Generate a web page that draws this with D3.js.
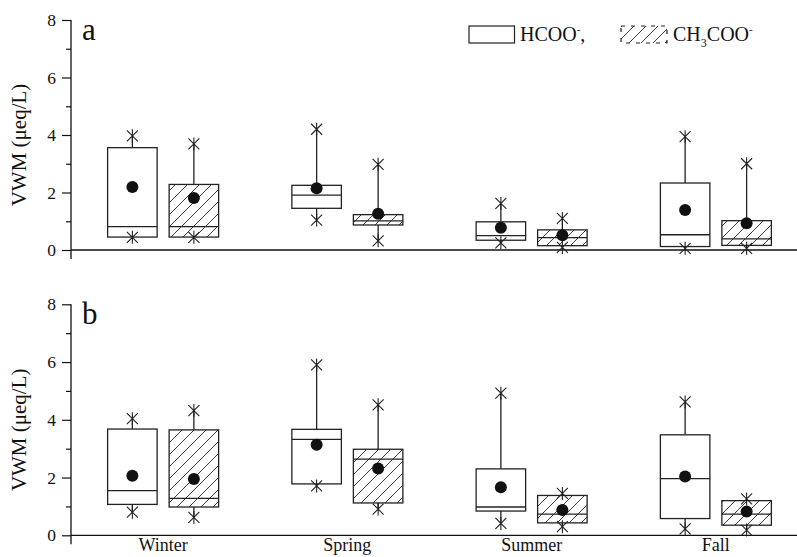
<!DOCTYPE html>
<html>
<head>
<meta charset="utf-8">
<script src="https://cdn.jsdelivr.net/npm/d3@7/dist/d3.min.js"></script>
<style>
  html, body { margin: 0; padding: 0; background: #fff; }
  svg { display: block; font-family: "Liberation Serif", "Times New Roman", serif; }
</style>
</head>
<body>
<svg id="chart" width="797" height="557"></svg>
<script>
// Seasons on the x axis
const seasons = ["Winter", "Spring", "Summer", "Fall"];
// Each row: [min, q1, median, q3, max, mean] per season (μeq/L)
const statFields = ["min", "q1", "median", "q3", "max", "mean"];

// Panel a
const hcooA = [
  [0.44, 0.45, 0.81, 3.56, 3.97, 2.19],
  [1.04, 1.45, 1.91, 2.25, 4.20, 2.15],
  [0.25, 0.34, 0.50, 0.98, 1.62, 0.77],
  [0.06, 0.12, 0.53, 2.33, 3.94, 1.39]
];
const acetA = [
  [0.44, 0.45, 0.81, 2.28, 3.69, 1.81],
  [0.32, 0.87, 1.01, 1.23, 2.98, 1.26],
  [0.09, 0.15, 0.43, 0.70, 1.10, 0.51],
  [0.06, 0.16, 0.39, 1.02, 3.00, 0.93]
];
// Panel b
const hcooB = [
  [0.80, 1.07, 1.55, 3.68, 4.04, 2.06],
  [1.71, 1.78, 3.32, 3.67, 5.90, 3.14],
  [0.41, 0.84, 0.98, 2.30, 4.92, 1.66],
  [0.22, 0.58, 1.96, 3.48, 4.62, 2.04]
];
const acetB = [
  [0.62, 0.98, 1.28, 3.65, 4.32, 1.95],
  [0.91, 1.12, 2.64, 2.98, 4.52, 2.31],
  [0.30, 0.43, 0.73, 1.38, 1.45, 0.88],
  [0.18, 0.35, 0.73, 1.20, 1.26, 0.82]
];

const yMajor = [0, 2, 4, 6, 8];
const yMinor = [1, 3, 5, 7];

const svg = d3.select("#chart");
const W = 797;

// hatch pattern for acetate boxes
const defs = svg.append("defs");
const pat = defs.append("pattern")
  .attr("id", "hatch")
  .attr("patternUnits", "userSpaceOnUse")
  .attr("width", 12).attr("height", 12);
pat.append("path")
  .attr("d", "M-3,3 L3,-3 M0,12 L12,0 M9,15 L15,9")
  .attr("stroke", "#222").attr("stroke-width", 0.9).attr("fill", "none");

const x = d3.scaleBand().domain(seasons).range([71, 808]).paddingInner(0).paddingOuter(0);
const offset = 30.75;
const boxW = 49.5;

const panels = [
  { label: "a", top: 20, bottom: 250, hcoo: hcooA, acet: acetA },
  { label: "b", top: 304.3, bottom: 535.3, hcoo: hcooB, acet: acetB }
];

const starPath = "M-5.5,-5.5L5.5,5.5M-5.5,5.5L5.5,-5.5M0,-6.5L0,6.5";

panels.forEach(p => {
  const y = d3.scaleLinear().domain([0, 8]).range([p.bottom, p.top]);
  const g = svg.append("g");

  // y axis: major ticks with labels
  const axis = d3.axisLeft(y).tickValues(yMajor).tickSize(9).tickSizeOuter(0).tickPadding(6)
    .tickFormat(d3.format("d"));
  const ga = g.append("g").attr("transform", "translate(71,0)").call(axis);
  ga.select(".domain").remove();
  ga.selectAll(".tick line").attr("stroke", "#111").attr("stroke-width", 1.2);
  ga.selectAll(".tick text").attr("font-size", 17.5).attr("fill", "#111")
    .attr("font-family", "Liberation Serif");
  // minor ticks
  const gm = g.append("g").attr("transform", "translate(71,0)")
    .call(d3.axisLeft(y).tickValues(yMinor).tickSize(5).tickSizeOuter(0).tickFormat(""));
  gm.select(".domain").remove();
  gm.selectAll(".tick line").attr("stroke", "#111").attr("stroke-width", 1.2);

  // axis lines
  g.append("line").attr("x1", 71).attr("x2", 71).attr("y1", y(8)).attr("y2", y(0) + 9)
    .attr("stroke", "#111").attr("stroke-width", 1.3);
  g.append("line").attr("x1", 71).attr("x2", W).attr("y1", y(0)).attr("y2", y(0))
    .attr("stroke", "#111").attr("stroke-width", 1.3);

  // y label
  g.append("text")
    .attr("transform", `translate(26,${(p.top + p.bottom) / 2 + 10}) rotate(-90)`)
    .attr("text-anchor", "middle").attr("font-size", 21).attr("fill", "#111")
    .text("VWM (μeq/L)");

  // panel letter
  g.append("text").attr("x", 82).attr("y", p.top + 20)
    .attr("font-size", 31).attr("fill", "#111").text(p.label);

  // boxes
  const series = [
    { rows: p.hcoo, dx: -offset, fill: "#fff" },
    { rows: p.acet, dx: offset, fill: "url(#hatch)" }
  ];
  series.forEach(s => {
    s.rows.forEach((r, i) => {
      const st = {};
      statFields.forEach((f, k) => st[f] = r[k]);
      const cx = x(seasons[i]) + x.bandwidth() / 2 + s.dx;
      const bg = g.append("g");
      // whiskers
      bg.append("line").attr("x1", cx).attr("x2", cx).attr("y1", y(st.q3)).attr("y2", y(st.max))
        .attr("stroke", "#222").attr("stroke-width", 1.3);
      bg.append("line").attr("x1", cx).attr("x2", cx).attr("y1", y(st.q1)).attr("y2", y(st.min))
        .attr("stroke", "#222").attr("stroke-width", 1.3);
      // box
      bg.append("rect").attr("x", cx - boxW / 2).attr("y", y(st.q3))
        .attr("width", boxW).attr("height", y(st.q1) - y(st.q3))
        .attr("fill", s.fill).attr("stroke", "#222").attr("stroke-width", 1.3);
      // median
      bg.append("line").attr("x1", cx - boxW / 2).attr("x2", cx + boxW / 2)
        .attr("y1", y(st.median)).attr("y2", y(st.median))
        .attr("stroke", "#222").attr("stroke-width", 1.3);
      // min / max markers
      [st.max, st.min].forEach(v => {
        bg.append("path").attr("d", starPath)
          .attr("transform", `translate(${cx},${y(v)})`)
          .attr("stroke", "#222").attr("stroke-width", 1.1).attr("fill", "none");
      });
      // mean
      bg.append("circle").attr("cx", cx).attr("cy", y(st.mean)).attr("r", 6).attr("fill", "#111");
    });
  });
});

// season labels under the bottom panel
svg.append("g").selectAll("text").data(seasons).join("text")
  .attr("x", d => x(d) + x.bandwidth() / 2)
  .attr("y", 551)
  .attr("text-anchor", "middle").attr("font-size", 18).attr("fill", "#111")
  .text(d => d);

// legend
const lg = svg.append("g");
lg.append("rect").attr("x", 469).attr("y", 26).attr("width", 45.5).attr("height", 17)
  .attr("fill", "#fff").attr("stroke", "#222").attr("stroke-width", 1.2);
const t1 = lg.append("text").attr("x", 520).attr("y", 41).attr("font-size", 20).attr("fill", "#111");
t1.append("tspan").text("HCOO");
t1.append("tspan").attr("dy", -8).attr("font-size", 11).text("-");
t1.append("tspan").attr("dy", 8).text(",");

lg.append("rect").attr("x", 621).attr("y", 26).attr("width", 46).attr("height", 17)
  .attr("fill", "url(#hatch)").attr("stroke", "#222").attr("stroke-width", 1.2)
  .attr("stroke-dasharray", "4,6");
const t2 = lg.append("text").attr("x", 673).attr("y", 41).attr("font-size", 20).attr("fill", "#111");
t2.append("tspan").text("CH");
t2.append("tspan").attr("dy", 6).attr("font-size", 12).text("3");
t2.append("tspan").attr("dy", -6).text("COO");
t2.append("tspan").attr("dy", -8).attr("font-size", 11).text("-");
</script>
</body>
</html>
